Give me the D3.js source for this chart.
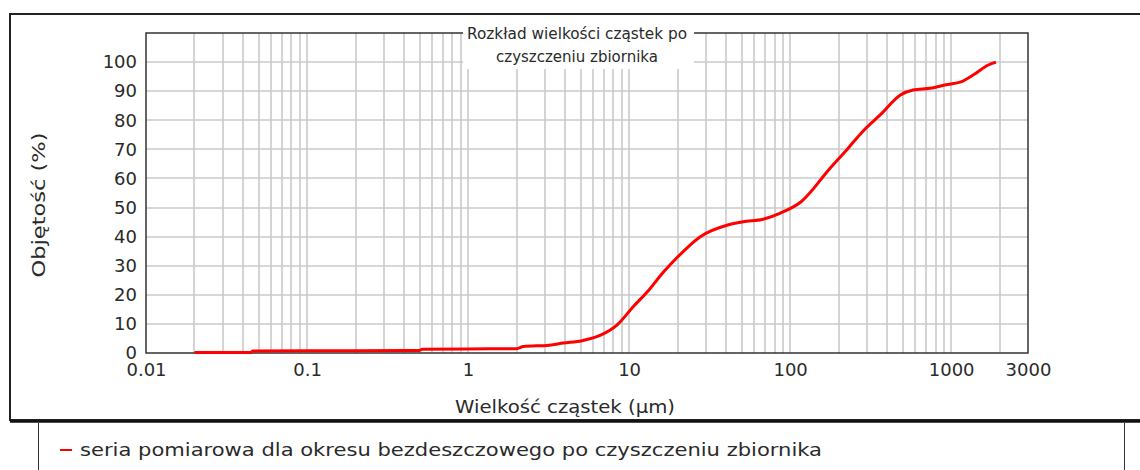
<!DOCTYPE html>
<meta charset="utf-8" />
<style>
  body { margin: 0; background: #fff; }
  text { font-family: "DejaVu Sans", Verdana, sans-serif; fill: #2a2a2a; }
  .grid line { stroke: #cacaca; stroke-width: 1.6; }
  .axis path { display: none; }
  .axis line { display: none; }
  .axis text { font-size: 18px; }
</style>
<body>
<script src="https://d3js.org/d3.v7.min.js"></script>
<script>
  // particle size (um) and cumulative volume (%)
  var sizes = [0.02, 0.045, 0.046, 0.2, 0.5, 0.52, 1, 2, 2.2, 3.2, 3.9, 5.1, 6.7, 8.4, 10.6, 13.2, 16.4, 20, 27.7, 41, 51, 68, 87, 117, 177, 230, 287, 365, 484, 580, 740, 950, 1150, 1400, 1700, 1900];
  var volumes = [0.2, 0.2, 0.7, 0.8, 0.9, 1.3, 1.4, 1.5, 2.2, 2.7, 3.4, 4.2, 6.2, 9.6, 15.9, 21.5, 27.9, 33, 40, 44, 45.1, 46, 48.1, 52, 63.5, 70.5, 76.6, 82, 88.7, 90.4, 91, 92.3, 93.2, 95.9, 99, 100];
  var xTicks = [0.01, 0.1, 1, 10, 100, 1000, 3000];
  var xTickLabels = ["0.01", "0.1", "1", "10", "100", "1000", "3000"];
  var yTicks = [0, 10, 20, 30, 40, 50, 60, 70, 80, 90, 100];
  var titleLines = ["Rozkład wielkości cząstek po", "czyszczeniu zbiornika"];
  var seriesName = "seria pomiarowa dla okresu bezdeszczowego po czyszczeniu zbiornika";

  var W = 1140, H = 470;
  var pLeft = 146, pRight = 1028, pTop = 33, pBottom = 353;

  var svg = d3.select("body").append("svg").attr("width", W).attr("height", H);

  var x = d3.scaleLog().domain([0.01, 3000]).range([pLeft, pRight]);
  var y = d3.scaleLinear().domain([0, 110]).range([pBottom, pTop]);

  // outer frame
  svg.append("rect").attr("x", 10).attr("y", 14).attr("width", 1150).attr("height", 406)
    .attr("fill", "none").attr("stroke", "#222").attr("stroke-width", 2);
  svg.append("line").attr("x1", 10).attr("x2", 1140).attr("y1", 421.5).attr("y2", 421.5)
    .attr("stroke", "#111").attr("stroke-width", 2.5);

  // grid
  var grid = svg.append("g").attr("class", "grid");
  var vlines = x.ticks().filter(function (d) { return d > 0.01 && d < 3000; });
  grid.selectAll(".v").data(vlines).enter().append("line")
    .attr("x1", function (d) { return Math.round(x(d)); })
    .attr("x2", function (d) { return Math.round(x(d)); })
    .attr("y1", pTop).attr("y2", pBottom);
  grid.selectAll(".h").data(yTicks.slice(1)).enter().append("line")
    .attr("x1", pLeft).attr("x2", pRight)
    .attr("y1", function (d) { return Math.round(y(d)); })
    .attr("y2", function (d) { return Math.round(y(d)); });

  // plot border
  svg.append("rect").attr("x", pLeft).attr("y", pTop).attr("width", pRight - pLeft).attr("height", pBottom - pTop)
    .attr("fill", "none").attr("stroke", "#333").attr("stroke-width", 1.5);

  // title box
  svg.append("rect").attr("x", 463).attr("y", 22).attr("width", 231).attr("height", 47).attr("fill", "#fff");
  svg.selectAll(".title").data(titleLines).enter().append("text")
    .attr("x", 577).attr("y", function (d, i) { return 39 + i * 23; })
    .attr("text-anchor", "middle").style("font-size", "15px")
    .attr("textLength", function (d, i) { return i === 0 ? 220 : 162; })
    .attr("lengthAdjust", "spacingAndGlyphs")
    .text(function (d) { return d; });

  // line
  var data = sizes.map(function (s, i) { return [s, volumes[i]]; });
  var line = d3.line()
    .x(function (d) { return x(d[0]); })
    .y(function (d) { return y(d[1]); })
    .curve(d3.curveMonotoneX);
  svg.append("path").datum(data).attr("d", line)
    .attr("fill", "none").attr("stroke", "#ff0000").attr("stroke-width", 3);

  // axes
  svg.append("g").attr("class", "axis").attr("transform", "translate(0," + (pBottom + 2) + ")")
    .call(d3.axisBottom(x).tickValues(xTicks).tickSize(0).tickPadding(8)
      .tickFormat(function (d, i) { return xTickLabels[i]; }));
  svg.append("g").attr("class", "axis").attr("transform", "translate(" + (pLeft - 3) + ",0)")
    .call(d3.axisLeft(y).tickValues(yTicks).tickSize(0).tickPadding(6));

  svg.append("text").attr("x", 565).attr("y", 413).attr("text-anchor", "middle")
    .style("font-size", "18px").attr("textLength", 220).attr("lengthAdjust", "spacingAndGlyphs")
    .text("Wielkość cząstek (µm)");
  svg.append("text").attr("transform", "translate(45,205) rotate(-90)").attr("text-anchor", "middle")
    .style("font-size", "18px").attr("textLength", 145).attr("lengthAdjust", "spacingAndGlyphs")
    .text("Objętość (%)");

  // legend
  svg.append("path").attr("d", "M38.5,423V470M1124.5,423V470")
    .attr("stroke", "#333").attr("stroke-width", 1).attr("fill", "none");
  svg.append("line").attr("x1", 60).attr("x2", 72).attr("y1", 450).attr("y2", 450)
    .attr("stroke", "#ff0000").attr("stroke-width", 2);
  svg.append("text").attr("x", 80).attr("y", 456).style("font-size", "18px")
    .attr("textLength", 742).attr("lengthAdjust", "spacingAndGlyphs")
    .text(seriesName);
</script>
</body>
